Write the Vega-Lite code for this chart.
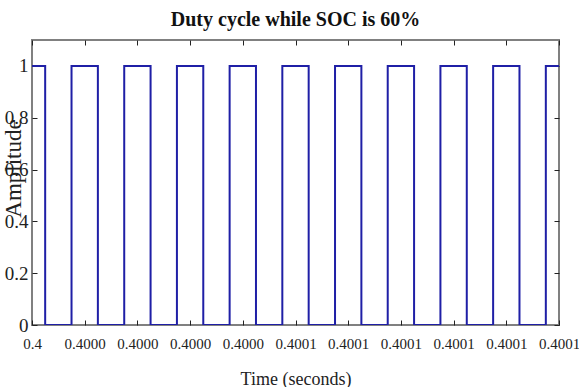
{
  "$schema": "https://vega.github.io/schema/vega-lite/v6.json",
  "width": 527,
  "height": 285,
  "autosize": "none",
  "padding": {"left": 32, "top": 40, "right": 20, "bottom": 62},
  "background": "white",
  "title": {
    "text": "Duty cycle while SOC is 60%",
    "font": "Liberation Serif",
    "fontSize": 20,
    "fontWeight": "bold",
    "color": "#111111",
    "offset": 10,
    "anchor": "middle"
  },
  "config": {
    "view": {"stroke": "#808080", "strokeWidth": 2},
    "axis": {
      "grid": false,
      "domain": false,
      "tickColor": "#222222",
      "tickSize": -5,
      "tickWidth": 1,
      "labelFont": "Liberation Serif",
      "labelFontSize": 15,
      "labelColor": "#222222",
      "titleFont": "Liberation Serif",
      "titleColor": "#222222",
      "titleFontWeight": "normal"
    }
  },
  "data": {
    "values": [
      {"t": 0.4, "v": 1},
      {"t": 0.4000025, "v": 0},
      {"t": 0.4000075, "v": 1},
      {"t": 0.4000125, "v": 0},
      {"t": 0.4000175, "v": 1},
      {"t": 0.4000225, "v": 0},
      {"t": 0.4000275, "v": 1},
      {"t": 0.4000325, "v": 0},
      {"t": 0.4000375, "v": 1},
      {"t": 0.4000425, "v": 0},
      {"t": 0.4000475, "v": 1},
      {"t": 0.4000525, "v": 0},
      {"t": 0.4000575, "v": 1},
      {"t": 0.4000625, "v": 0},
      {"t": 0.4000675, "v": 1},
      {"t": 0.4000725, "v": 0},
      {"t": 0.4000775, "v": 1},
      {"t": 0.4000825, "v": 0},
      {"t": 0.4000875, "v": 1},
      {"t": 0.4000925, "v": 0},
      {"t": 0.4000975, "v": 1},
      {"t": 0.4001, "v": 1}
    ]
  },
  "layer": [
    {
      "mark": {"type": "line", "interpolate": "step-after", "color": "#1f1fa6", "strokeWidth": 2, "clip": true},
      "encoding": {
        "x": {
          "field": "t",
          "type": "quantitative",
          "scale": {"domain": [0.4, 0.4001], "nice": false, "zero": false},
          "axis": {
            "orient": "bottom",
            "values": [0.4, 0.40001, 0.40002, 0.40003, 0.40004, 0.40005, 0.40006, 0.40007, 0.40008, 0.40009, 0.4001],
            "labelExpr": "datum.index == 0 ? '0.4' : (datum.index < 0.45 ? '0.4000' : '0.4001')",
            "labelPadding": 16,
            "labelFlush": false,
            "labelOverlap": false,
            "title": "Time (seconds)",
            "titleFontSize": 18,
            "titleY": 54,
            "titleBaseline": "middle"
          }
        },
        "y": {
          "field": "v",
          "type": "quantitative",
          "scale": {"domain": [0, 1.1], "nice": false, "zero": false},
          "axis": {
            "orient": "left",
            "values": [0, 0.2, 0.4, 0.6, 0.8, 1],
            "labelExpr": "datum.value == 0 ? '0' : (datum.value == 1 ? '1' : format(datum.value, '.1f'))",
            "labelFontSize": 19,
            "labelPadding": 9,
            "labelFlush": false,
            "labelOverlap": false,
            "title": "Amplitude",
            "titleFontSize": 23,
            "titleX": -19,
            "titleY": 128,
            "titleBaseline": "middle",
            "titleAngle": 270
          }
        }
      }
    },
    {
      "mark": {"type": "line", "opacity": 0},
      "encoding": {
        "x": {
          "field": "t",
          "type": "quantitative",
          "scale": {"domain": [0.4, 0.4001], "nice": false, "zero": false},
          "axis": {
            "orient": "top",
            "values": [0.4, 0.40001, 0.40002, 0.40003, 0.40004, 0.40005, 0.40006, 0.40007, 0.40008, 0.40009, 0.4001],
            "labels": false,
            "title": null
          }
        },
        "y": {
          "field": "v",
          "type": "quantitative",
          "scale": {"domain": [0, 1.1], "nice": false, "zero": false},
          "axis": {
            "orient": "right",
            "values": [0, 0.2, 0.4, 0.6, 0.8, 1],
            "labels": false,
            "title": null
          }
        }
      }
    }
  ],
  "resolve": {"axis": {"x": "independent", "y": "independent"}}
}
